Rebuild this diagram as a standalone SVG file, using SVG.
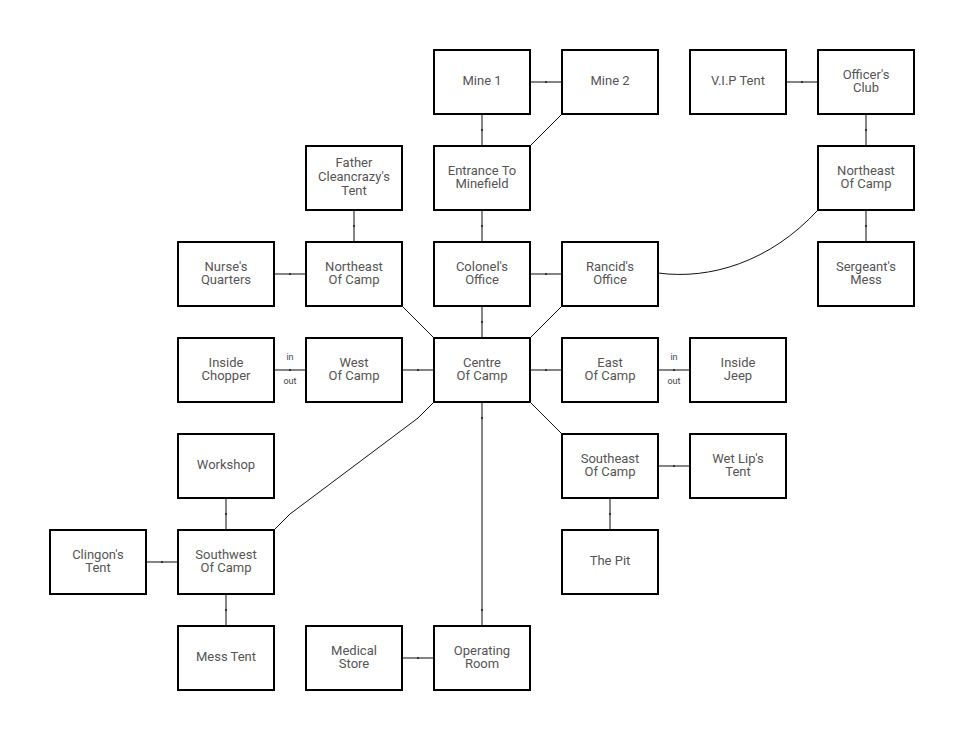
<svg xmlns="http://www.w3.org/2000/svg" width="964" height="740" viewBox="0 0 964 740">
<defs>
<marker id="tick" markerWidth="3" markerHeight="3" refX="1.5" refY="1.5" markerUnits="userSpaceOnUse"><rect x="0.5" y="0.5" width="2" height="2" fill="#333"/></marker>
<style>
.n rect{fill:#fff;stroke:#000;stroke-width:2}
.n text,.lbl{font-family:Roboto,"Liberation Sans",sans-serif;font-size:13px;fill:#555;text-anchor:middle}
.lbl{font-size:9px;fill:#444}
.c path{fill:none;stroke:#666;stroke-width:1.6}
.c path.m{marker-mid:url(#tick)}
.c path.d{stroke:#111;stroke-width:1}
</style>
</defs>
<rect width="964" height="740" fill="#fff"/>
<g class="c">
<path class="m" d="M530,82 L546,82 L562,82"/>
<path class="m" d="M482,114 L482,130 L482,146"/>
<path class="d" d="M562,114 L530,146"/>
<path class="m" d="M786,82 L802,82 L818,82"/>
<path class="m" d="M866,114 L866,130 L866,146"/>
<path class="m" d="M866,210 L866,226 L866,242"/>
<path class="d" d="M818,210 C770,262 710,280 658,273"/>
<path class="m" d="M354,210 L354,226 L354,242"/>
<path class="m" d="M274,274 L290,274 L306,274"/>
<path class="d" d="M402,306 L434,338"/>
<path class="m" d="M482,210 L482,226 L482,242"/>
<path class="m" d="M530,274 L546,274 L562,274"/>
<path class="m" d="M482,306 L482,322 L482,338"/>
<path class="d" d="M562,306 L530,338"/>
<path class="m" d="M274,370 L290,370 L306,370"/>
<path class="m" d="M402,370 L418,370 L434,370"/>
<path class="m" d="M530,370 L546,370 L562,370"/>
<path class="m" d="M658,370 L674,370 L690,370"/>
<path class="d" d="M530,402 L562,434"/>
<path class="m" d="M658,466 L674,466 L690,466"/>
<path class="m" d="M610,498 L610,514 L610,530"/>
<path class="m" d="M482,402 L482,418 L482,610 L482,626"/>
<path class="d" d="M434,402 L418,418 L290,514 L274,530"/>
<path class="m" d="M226,498 L226,514 L226,530"/>
<path class="m" d="M146,562 L162,562 L178,562"/>
<path class="m" d="M226,594 L226,610 L226,626"/>
<path class="m" d="M402,658 L418,658 L434,658"/>
<text class="lbl" x="290" y="360">in</text>
<text class="lbl" x="290" y="384">out</text>
<text class="lbl" x="674" y="360">in</text>
<text class="lbl" x="674" y="384">out</text>
</g>
<g id="mine1" class="n"><rect x="434" y="50" width="96" height="64"/><text x="482" y="84.5">Mine 1</text></g>
<g id="mine2" class="n"><rect x="562" y="50" width="96" height="64"/><text x="610" y="84.5">Mine 2</text></g>
<g id="vip" class="n"><rect x="690" y="50" width="96" height="64"/><text x="738" y="84.5">V.I.P Tent</text></g>
<g id="officers" class="n"><rect x="818" y="50" width="96" height="64"/><text x="866" y="78.5">Officer's</text><text x="866" y="92">Club</text></g>
<g id="father" class="n"><rect x="306" y="146" width="96" height="64"/><text x="354" y="167">Father</text><text x="354" y="181">Cleancrazy's</text><text x="354" y="195">Tent</text></g>
<g id="entrance" class="n"><rect x="434" y="146" width="96" height="64"/><text x="482" y="174.5">Entrance To</text><text x="482" y="188">Minefield</text></g>
<g id="northeast2" class="n"><rect x="818" y="146" width="96" height="64"/><text x="866" y="174.5">Northeast</text><text x="866" y="188">Of Camp</text></g>
<g id="nurse" class="n"><rect x="178" y="242" width="96" height="64"/><text x="226" y="270.5">Nurse's</text><text x="226" y="284">Quarters</text></g>
<g id="northeast1" class="n"><rect x="306" y="242" width="96" height="64"/><text x="354" y="270.5">Northeast</text><text x="354" y="284">Of Camp</text></g>
<g id="colonel" class="n"><rect x="434" y="242" width="96" height="64"/><text x="482" y="270.5">Colonel's</text><text x="482" y="284">Office</text></g>
<g id="rancid" class="n"><rect x="562" y="242" width="96" height="64"/><text x="610" y="270.5">Rancid's</text><text x="610" y="284">Office</text></g>
<g id="sergeant" class="n"><rect x="818" y="242" width="96" height="64"/><text x="866" y="270.5">Sergeant's</text><text x="866" y="284">Mess</text></g>
<g id="chopper" class="n"><rect x="178" y="338" width="96" height="64"/><text x="226" y="366.5">Inside</text><text x="226" y="380">Chopper</text></g>
<g id="west" class="n"><rect x="306" y="338" width="96" height="64"/><text x="354" y="366.5">West</text><text x="354" y="380">Of Camp</text></g>
<g id="centre" class="n"><rect x="434" y="338" width="96" height="64"/><text x="482" y="366.5">Centre</text><text x="482" y="380">Of Camp</text></g>
<g id="east" class="n"><rect x="562" y="338" width="96" height="64"/><text x="610" y="366.5">East</text><text x="610" y="380">Of Camp</text></g>
<g id="jeep" class="n"><rect x="690" y="338" width="96" height="64"/><text x="738" y="366.5">Inside</text><text x="738" y="380">Jeep</text></g>
<g id="workshop" class="n"><rect x="178" y="434" width="96" height="64"/><text x="226" y="468.5">Workshop</text></g>
<g id="southeast" class="n"><rect x="562" y="434" width="96" height="64"/><text x="610" y="462.5">Southeast</text><text x="610" y="476">Of Camp</text></g>
<g id="wetlip" class="n"><rect x="690" y="434" width="96" height="64"/><text x="738" y="462.5">Wet Lip's</text><text x="738" y="476">Tent</text></g>
<g id="clingon" class="n"><rect x="50" y="530" width="96" height="64"/><text x="98" y="558.5">Clingon's</text><text x="98" y="572">Tent</text></g>
<g id="southwest" class="n"><rect x="178" y="530" width="96" height="64"/><text x="226" y="558.5">Southwest</text><text x="226" y="572">Of Camp</text></g>
<g id="pit" class="n"><rect x="562" y="530" width="96" height="64"/><text x="610" y="564.5">The Pit</text></g>
<g id="messtent" class="n"><rect x="178" y="626" width="96" height="64"/><text x="226" y="660.5">Mess Tent</text></g>
<g id="medical" class="n"><rect x="306" y="626" width="96" height="64"/><text x="354" y="654.5">Medical</text><text x="354" y="668">Store</text></g>
<g id="operating" class="n"><rect x="434" y="626" width="96" height="64"/><text x="482" y="654.5">Operating</text><text x="482" y="668">Room</text></g>
</svg>
